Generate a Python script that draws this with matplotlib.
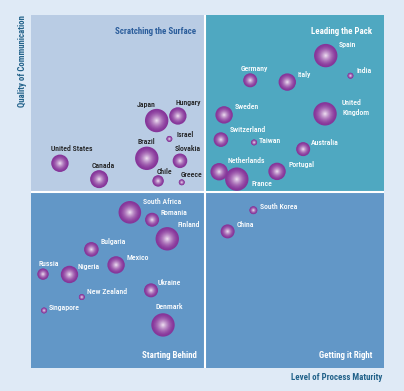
"""
Bubble matrix: quality of communication vs level of process maturity
"""
import matplotlib
matplotlib.use('Agg')
import matplotlib.pyplot as plt
import numpy as np
from matplotlib.colors import to_rgb
from matplotlib.patches import Rectangle

# data: country, x (process maturity), y (quality of communication), bubble weight
countries = ['Japan', 'Hungary', 'Israel', 'Brazil', 'Slovakia', 'United States',
             'Canada', 'Chile', 'Greece',
             'Spain', 'India', 'Germany', 'Italy', 'Sweden', 'United\nKingdom',
             'Switzerland', 'Taiwan', 'Australia', 'Netherlands', 'Portugal', 'France',
             'South Africa', 'Romania', 'Finland', 'Bulgaria', 'Mexico', 'Russia',
             'Nigeria', 'Ukraine', 'New Zealand', 'Singapore', 'Denmark',
             'South Korea', 'China']
maturity = [35.6, 41.6, 39.2, 32.8, 42.2, 8.2, 19.3, 36.0, 42.7,
            83.5, 90.5, 62.1, 72.6, 54.7, 83.3, 53.8, 63.2, 77.1, 53.3, 69.7, 58.3,
            28.0, 34.3, 38.6, 17.1, 24.1, 3.4, 10.9, 34.0, 14.4, 3.7, 37.4,
            63.0, 55.7]
communication = [70.1, 71.4, 64.9, 59.4, 58.7, 58.0, 53.5, 53.0, 52.6,
                 88.5, 82.8, 81.5, 81.0, 71.7, 72.0, 64.7, 63.9, 62.0, 55.6, 55.7, 53.5,
                 44.1, 42.0, 36.6, 33.6, 29.2, 26.6, 26.5, 22.0, 20.1, 16.3, 12.2,
                 44.7, 38.7]
weight = [11.7, 8.7, 3, 11.7, 7.3, 8.7, 9, 5.7, 3,
          11.7, 3, 7, 8.7, 8.7, 11.7, 7.3, 3, 7, 8.7, 8.7, 11.7,
          11.3, 7, 11.7, 7.3, 8.7, 5.7, 8.7, 7, 3, 3, 11.7,
          4, 7]

# label offsets in pixels from bubble centre (dx, dy, alignment)
label_pos = [(-10, 16, 'center'), (-2, 13, 'left'), (7, 4, 'left'), (0, 17, 'center'),
             (-5, 12, 'left'), (-9, 15, 'left'), (-8, 14, 'left'), (-1, 9, 'left'),
             (-1, 8, 'left'),
             (13, 11, 'left'), (6, 5, 'left'), (-10, 12, 'left'), (10, 8, 'left'),
             (11, 8, 'left'), (17, 6, 'left'), (9, 10, 'left'), (5, 2, 'left'),
             (8, 7, 'left'), (8, 11, 'left'), (11, 7, 'left'), (15, -4, 'left'),
             (13, 11, 'left'), (8, 7, 'left'), (10, 14, 'left'), (9, 8, 'left'),
             (10, 7, 'left'), (-5, 11, 'left'), (8, 8, 'left'), (7, 8, 'left'),
             (5, 6, 'left'), (5, 3, 'left'), (-8, 18, 'left'),
             (7, 4, 'left'), (9, 7, 'left')]

x_split = 49.4
y_split = 50.0

narrow = ['Roboto Condensed', 'DejaVu Sans']

fig = plt.figure(figsize=(4.04, 3.91), dpi=100)
fig.patch.set_facecolor('#dfeaf6')
ax = fig.add_axes([31 / 404, 23 / 391, 353 / 404, 353 / 391])
ax.set_xlim(0, 100)
ax.set_ylim(0, 100)
ax.axis('off')

# quadrants
ax.add_patch(Rectangle((0, y_split), x_split, 100 - y_split, color='#b9cce4', zorder=0))
ax.add_patch(Rectangle((x_split, y_split), 100 - x_split, 100 - y_split, color='#4fa8c1', zorder=0))
ax.add_patch(Rectangle((0, 0), 100, y_split, color='#6297c7', zorder=0))
ax.axvline(x_split, color='white', lw=1.5, zorder=1)
ax.axhline(y_split, color='white', lw=1.5, zorder=1)

# bubbles with a radial shading
edge = np.array(to_rgb('#86359a'))
light = np.array(to_rgb('#f6ecf8'))
n_layers = 14
for k in range(n_layers):
    t = k / n_layers
    col = edge + (light - edge) * t ** 1.6
    sizes = [(2 * r * 0.72 * (1 - t)) ** 2 for r in weight]
    ax.scatter(maturity, communication, s=sizes, color=col, lw=0, zorder=3 + k * 0.01)

for name, x, y, (dx, dy, ha) in zip(countries, maturity, communication, label_pos):
    dark = x < x_split and y > y_split
    ax.annotate(name, (x, y), xytext=(dx, dy), textcoords='offset pixels',
                ha=ha, va='center', fontsize=5.6, family=narrow, fontweight='medium',
                color='#1e1e1e' if dark else 'white', linespacing=1.45, zorder=5)

# quadrant titles
title_kw = dict(fontsize=6.4, fontweight='bold', family=narrow, va='center', ha='right')
ax.text(46.9, 95.2, 'Scratching the Surface', color='#2b5d9b', **title_kw)
ax.text(96.7, 95.2, 'Leading the Pack', color='white', **title_kw)
ax.text(46.9, 3.5, 'Starting Behind', color='white', **title_kw)
ax.text(96.7, 3.5, 'Getting it Right', color='white', **title_kw)

fig.text(382 / 404, 1 - 378 / 391, 'Level of Process Maturity', color='#22628a',
         fontsize=6.4, fontweight='bold', family=narrow, ha='right', va='center')
fig.text(23 / 404, 1 - 15 / 391, 'Quality of Communication', color='#22628a',
         fontsize=6.4, fontweight='bold', family=narrow, ha='center', va='top',
         rotation=90)

fig.savefig('out.png', dpi=100, facecolor=fig.get_facecolor())
